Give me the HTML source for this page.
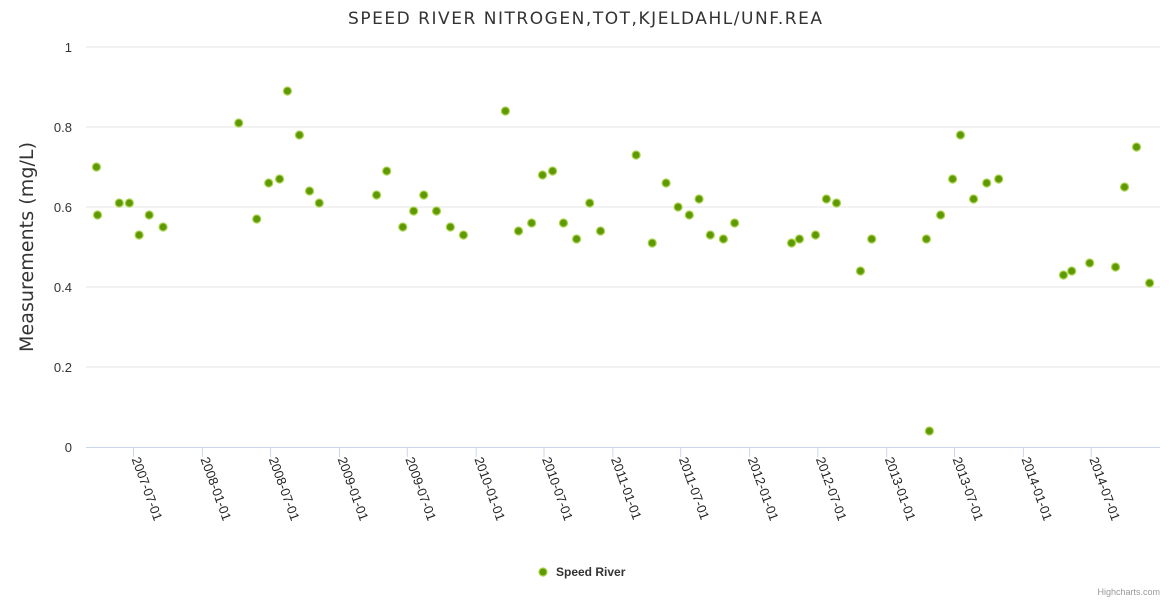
<!DOCTYPE html>
<html><head><meta charset="utf-8"><style>
html,body{margin:0;padding:0;background:#fff;}
svg{display:block;font-family:"Liberation Sans","DejaVu Sans",sans-serif;}
</style></head><body>
<svg id="chart" width="1170" height="600">
<text x="348" y="24" textLength="474" lengthAdjust="spacing" font-size="17" fill="#333" font-family="DejaVu Sans, sans-serif">SPEED RIVER NITROGEN,TOT,KJELDAHL/UNF.REA</text>
<text transform="translate(33,247) rotate(-90)" text-anchor="middle" font-size="19" textLength="210" lengthAdjust="spacing" fill="#333" font-family="DejaVu Sans, sans-serif">Measurements (mg/L)</text>
<g id="grid"></g><g id="xaxis"></g><g id="points"></g>
<g>
<circle cx="543" cy="572" r="4" fill="#5f9900" stroke="#a8d24e" stroke-width="1.2"/>
<text x="556" y="576" font-size="12" font-weight="bold" fill="#333">Speed River</text>
</g>
<text x="1160" y="595" text-anchor="end" font-size="9" fill="#999">Highcharts.com</text>
</svg>
<script>
const dates=["2007-03-24","2007-03-27","2007-05-24","2007-06-20","2007-07-16","2007-08-12","2007-09-18","2008-04-07","2008-05-25","2008-06-26","2008-07-25","2008-08-15","2008-09-16","2008-10-13","2008-11-08","2009-04-10","2009-05-07","2009-06-19","2009-07-18","2009-08-14","2009-09-17","2009-10-24","2009-11-28","2010-03-20","2010-04-24","2010-05-29","2010-06-27","2010-07-24","2010-08-22","2010-09-26","2010-10-31","2010-11-29","2011-03-04","2011-04-16","2011-05-23","2011-06-24","2011-07-24","2011-08-19","2011-09-18","2011-10-23","2011-11-22","2012-04-22","2012-05-13","2012-06-25","2012-07-24","2012-08-20","2012-10-23","2012-11-22","2013-04-17","2013-04-25","2013-05-25","2013-06-26","2013-07-17","2013-08-21","2013-09-25","2013-10-27","2014-04-18","2014-05-10","2014-06-27","2014-09-04","2014-09-28","2014-10-30","2014-12-04"];
const values=[0.70,0.58,0.61,0.61,0.53,0.58,0.55,0.81,0.57,0.66,0.67,0.89,0.78,0.64,0.61,0.63,0.69,0.55,0.59,0.63,0.59,0.55,0.53,0.84,0.54,0.56,0.68,0.69,0.56,0.52,0.61,0.54,0.73,0.51,0.66,0.60,0.58,0.62,0.53,0.52,0.56,0.51,0.52,0.53,0.62,0.61,0.44,0.52,0.52,0.04,0.58,0.67,0.78,0.62,0.66,0.67,0.43,0.44,0.46,0.45,0.65,0.75,0.41];
const yTicks=[0,0.2,0.4,0.6,0.8,1];
const xTicks=["2007-07-01","2008-01-01","2008-07-01","2009-01-01","2009-07-01","2010-01-01","2010-07-01","2011-01-01","2011-07-01","2012-01-01","2012-07-01","2013-01-01","2013-07-01","2014-01-01","2014-07-01"];
const NS="http://www.w3.org/2000/svg";
const L=86,R=1160,T=47,B=447;
const ref=Date.parse("2007-07-01"),DAY=86400000;
function xs(d){return 133.5+(Date.parse(d)-ref)/DAY/365.25*136.8;}
function ys(v){return B-(v-0)/(1-0)*(B-T);}
function mk(tag,attrs,parent){const e=document.createElementNS(NS,tag);for(const k in attrs)e.setAttribute(k,attrs[k]);parent.appendChild(e);return e;}
const grid=document.getElementById('grid');
yTicks.forEach(v=>{
  if(v>0){const g=mk('line',{x1:L,x2:R,y1:ys(v),y2:ys(v),stroke:'#e6e6e6','stroke-width':1},grid);
  
  }
  const t=mk('text',{x:72,y:ys(v)+5,'text-anchor':'end','font-size':13,fill:'#333'},grid);
  t.textContent=String(v);
  
  
});
const xa=document.getElementById('xaxis');
const al=mk('line',{x1:L,x2:R,y1:B+0.5,y2:B+0.5,stroke:'#ccd6eb','stroke-width':1},xa);


xTicks.forEach(d=>{
  const x=xs(d);
  const tk=mk('line',{x1:x,x2:x,y1:B,y2:B+10,stroke:'#ccd6eb','stroke-width':1},xa);
  
  
  const t=mk('text',{transform:`translate(${x-2},${B+12}) rotate(70)`,'font-size':13,fill:'#222'},xa);
  t.textContent=d;
  
  
});
const pg=document.getElementById('points');
dates.forEach((d,i)=>{
  const c=mk('circle',{cx:xs(d),cy:ys(values[i]),r:4,fill:'#5f9900',stroke:'#a8d24e','stroke-width':1.2},pg);
  
  
});
</script>
</body></html>
